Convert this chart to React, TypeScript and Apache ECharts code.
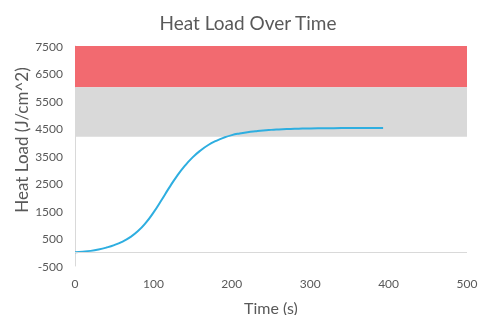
import React, { useEffect, useRef } from "react";
import * as echarts from "echarts";

const title = "Heat Load Over Time";
const xName = "Time (s)";
const yName = "Heat Load (J/cm^2)";
const timeValues = [0, 10, 20, 30, 40, 50, 60, 70, 80, 90, 100, 110, 120, 130, 140, 150, 160, 170, 180, 190, 200, 210, 220, 230, 240, 250, 260, 270, 280, 290, 300, 320, 340, 360, 380, 393];
const heatLoad = [0, 20, 50, 100, 170, 260, 380, 540, 760, 1060, 1440, 1880, 2340, 2770, 3140, 3450, 3700, 3900, 4050, 4170, 4260, 4320, 4365, 4400, 4430, 4450, 4465, 4478, 4488, 4496, 4502, 4510, 4515, 4518, 4521, 4522];
const dangerBand = [6000, 7500];
const warningBand = [4200, 6000];
const yTickLabels = [-500, 500, 1500, 2500, 3500, 4500, 5500, 6500, 7500];

export default function App() {
  const ref = useRef<HTMLDivElement>(null);
  useEffect(() => {
    if (!ref.current) return;
    const chart = echarts.init(ref.current, undefined, { renderer: "svg" });
    const font = "Lato, 'Open Sans', sans-serif";
    chart.setOption({
      animation: false,
      title: {
        text: title,
        left: 243,
        textAlign: "center",
        top: 8,
        textStyle: { fontFamily: font, fontSize: 19, fontWeight: "normal", color: "#595959" },
      },
      grid: { left: 75, right: 12, top: 46, bottom: 49, containLabel: false, outerBoundsMode: "none" },
      xAxis: {
        type: "value",
        min: 0,
        max: 500,
        interval: 100,
        name: xName,
        nameLocation: "middle",
        nameGap: 33,
        nameTextStyle: { fontFamily: font, fontSize: 16, color: "#595959" },
        axisLine: { show: false },
        axisTick: { show: false },
        splitLine: { show: false },
        axisLabel: { fontFamily: font, fontSize: 12, color: "#595959", margin: 11 },
      },
      yAxis: {
        type: "value",
        min: -500,
        max: 7500,
        interval: 500,
        axisLine: { show: true, onZero: false, lineStyle: { color: "#d9d9d9", width: 1 } },
        axisTick: { show: false },
        splitLine: { show: false },
        axisLabel: {
          fontFamily: font,
          fontSize: 12,
          color: "#595959",
          margin: 12,
          formatter: (v: number) => (yTickLabels.includes(v) ? String(v) : ""),
        },
      },
      graphic: [
        {
          type: "text",
          x: 21,
          y: 140,
          rotation: Math.PI / 2,
          style: {
            text: yName,
            fontFamily: font,
            fontSize: 17,
            fill: "#595959",
            align: "center",
            verticalAlign: "middle",
          },
        },
      ],
      series: [
        {
          type: "line",
          data: timeValues.map((t, i) => [t, heatLoad[i]]),
          smooth: true,
          showSymbol: false,
          lineStyle: { color: "#2eaee0", width: 2 },
          markArea: {
            silent: true,
            data: [
              [{ yAxis: dangerBand[0], itemStyle: { color: "#f26a70" } }, { yAxis: dangerBand[1] }],
              [{ yAxis: warningBand[0], itemStyle: { color: "#d9d9d9" } }, { yAxis: warningBand[1] }],
            ],
          },
          markLine: {
            silent: true,
            symbol: "none",
            label: { show: false },
            lineStyle: { color: "#d9d9d9", type: "solid", width: 1 },
            data: [{ yAxis: 0 }],
          },
          z: 3,
        },
      ],
    });
    return () => chart.dispose();
  }, []);
  return <div ref={ref} style={{ position: "fixed", left: 0, top: 0, width: 479, height: 315 }} />;
}
